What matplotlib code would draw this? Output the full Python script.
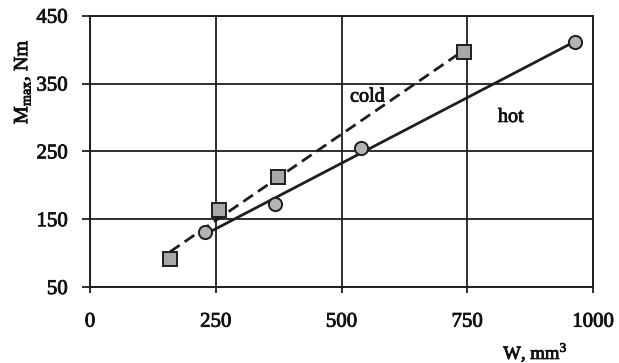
import numpy as np
import matplotlib
matplotlib.use("Agg")
import matplotlib.pyplot as plt
import matplotlib.patheffects as pe

# Data
cold_W = [159, 257, 374, 744]
cold_M = [91, 164, 212, 397]
hot_W = [229, 368, 539, 965]
hot_M = [131, 172, 255, 411]
x_ticks = [0, 250, 500, 750, 1000]
y_ticks = [50, 150, 250, 350, 450]

plt.rcParams['font.family'] = ['Liberation Serif', 'DejaVu Serif']

fig = plt.figure(figsize=(6.19, 3.63), dpi=100)
ax = fig.add_axes([0.1454, 0.2094, 0.958 - 0.1454, 0.9567 - 0.2094])

ax.set_xlim(0, 1000)
ax.set_ylim(50, 450)

lc = '#1e1e1e'
tc = '#111111'
heavy = [pe.withStroke(linewidth=0.6, foreground=tc)]

# trend lines (least-squares fits of each series)
for W, M, ls in [(cold_W, cold_M, 'dashed'), (hot_W, hot_M, 'solid')]:
    k, b = np.polyfit(W, M, 1)
    xs = np.array([min(W), max(W)])
    line, = ax.plot(xs, k * xs + b, color=lc, lw=2.0, zorder=3)
    if ls == 'dashed':
        line.set_dashes((4.2, 2.2))

ax.plot(cold_W, cold_M, linestyle='none', marker='s', markersize=9.5,
        markerfacecolor='#a8a8a8', markeredgecolor=lc, markeredgewidth=1.4, zorder=4)
ax.plot(hot_W, hot_M, linestyle='none', marker='o', markersize=9.5,
        markerfacecolor='#b4b4b4', markeredgecolor=lc, markeredgewidth=1.4, zorder=4)

ax.set_xticks(x_ticks)
ax.set_yticks(y_ticks)
ax.grid(True, color=lc, lw=1.3)
ax.set_axisbelow(True)
for s in ax.spines.values():
    s.set_color(lc)
    s.set_linewidth(1.4)
ax.tick_params(axis='x', direction='out', length=4.5, width=1.3, color=lc,
               labelsize=15, pad=14, labelcolor=tc)
ax.tick_params(axis='y', direction='out', length=6, width=1.3, color=lc,
               labelsize=15, pad=10, labelcolor=tc)
for lab in ax.get_xticklabels() + ax.get_yticklabels():
    lab.set_path_effects(heavy)

ax.text(517, 330, 'cold', fontsize=14.5, color=tc, va='center', ha='left',
        path_effects=heavy)
ax.text(811, 300, 'hot', fontsize=14.5, color=tc, va='center', ha='left',
        path_effects=heavy)

fig.text(0.036, 0.775, r'M$_{\mathregular{max}}$, Nm', rotation=90, fontsize=14.5,
         color=tc, ha='center', va='center', path_effects=heavy)
fig.text(0.865, 0.03, r'W, mm$^{\mathregular{3}}$', fontsize=13.5, color=tc,
         ha='center', va='center', path_effects=heavy)

fig.savefig('out.png', dpi=100, facecolor='white')
